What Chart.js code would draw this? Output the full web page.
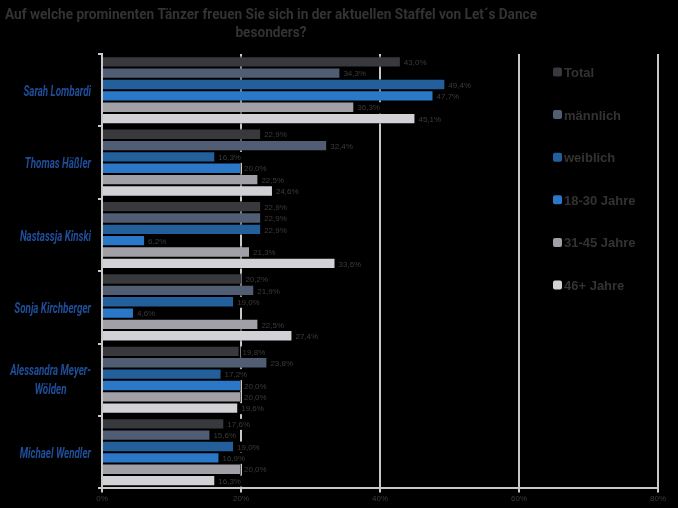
<!DOCTYPE html>
<html>
<head>
<meta charset="utf-8">
<script src="https://cdn.jsdelivr.net/npm/chart.js@4/dist/chart.umd.min.js"></script>
<style>
  html, body { margin: 0; padding: 0; background: #000; }
  #wrap { width: 678px; height: 508px; }
</style>
</head>
<body>
<div id="wrap"><canvas id="c" width="678" height="508"></canvas></div>
<script>
const categories = ["Sarah Lombardi", "Thomas Häßler", "Nastassja Kinski", "Sonja Kirchberger", ["Alessandra Meyer-", "Wölden"], "Michael Wendler"];
const seriesNames = ["Total", "männlich", "weiblich", "18-30 Jahre", "31-45 Jahre", "46+ Jahre"];
const total      = [43.0, 22.9, 22.9, 20.2, 19.8, 17.6];
const maennlich  = [34.3, 32.4, 22.9, 21.9, 23.8, 15.6];
const weiblich   = [49.4, 16.3, 22.9, 19.0, 17.2, 19.0];
const jahre18_30 = [47.7, 20.0, 6.2, 4.6, 20.0, 16.9];
const jahre31_45 = [36.3, 22.5, 21.3, 22.5, 20.0, 20.0];
const jahre46    = [45.1, 24.6, 33.6, 27.4, 19.6, 16.3];
const xTicks = [0, 20, 40, 60, 80];
const titleLines = ["Auf welche prominenten Tänzer freuen Sie sich in der aktuellen Staffel von Let´s Dance", "besonders?"];

const colors = ["#38393d", "#505d72", "#235f9a", "#2b78c8", "#a0a0a6", "#d2d2d6"];
const seriesValues = [total, maennlich, weiblich, jahre18_30, jahre31_45, jahre46];

const datasets = seriesNames.map((n, i) => ({
  label: n,
  data: seriesValues[i],
  backgroundColor: colors[i],
  borderColor: "rgba(0,0,0,0.55)",
  borderWidth: 1,
  barPercentage: 1.0,
  categoryPercentage: 0.94
}));

const fmt = v => v.toFixed(1).replace(".", ",") + "%";

const bgPlugin = {
  id: "bg",
  beforeDraw(chart) {
    const ctx = chart.ctx;
    ctx.save();
    ctx.fillStyle = "#000";
    ctx.fillRect(0, 0, chart.width, chart.height);
    ctx.restore();
  }
};

// condensed title, drawn as text
const titlePlugin = {
  id: "condTitle",
  afterDraw(chart) {
    const ctx = chart.ctx;
    ctx.save();
    ctx.font = "bold 15px Roboto, 'Liberation Sans', sans-serif";
    ctx.fillStyle = "#333333";
    ctx.textAlign = "center";
    ctx.textBaseline = "middle";
    const w0 = ctx.measureText(titleLines[0]).width;
    const sx = 532 / w0;
    const cx = 271;
    titleLines.forEach((line, i) => {
      ctx.save();
      ctx.translate(cx, 15 + i * 18);
      ctx.scale(sx, 1);
      ctx.fillText(line, 0, 0);
      ctx.restore();
    });
    ctx.restore();
  }
};

// condensed category labels
const yLabelPlugin = {
  id: "yLabels",
  afterDraw(chart) {
    const ctx = chart.ctx;
    const ys = chart.scales.y;
    ctx.save();
    ctx.font = "italic bold 14px Roboto, 'Liberation Sans', sans-serif";
    ctx.fillStyle = "#1f4e9a";
    ctx.textBaseline = "middle";
    const sx = 0.7;
    const right = 91;
    chart.data.labels.forEach((lab, i) => {
      const yc = ys.getPixelForTick(i);
      if (Array.isArray(lab)) {
        const widths = lab.map(l => ctx.measureText(l).width * sx);
        const maxW = Math.max(...widths);
        const center = right - maxW / 2;
        lab.forEach((l, j) => {
          const y = yc + 1 + (j - (lab.length - 1) / 2) * 19;
          ctx.save();
          ctx.translate(center, y);
          ctx.scale(sx, 1);
          ctx.textAlign = "center";
          ctx.fillText(l, 0, 0);
          ctx.restore();
        });
      } else {
        ctx.save();
        ctx.translate(right, yc + 2);
        ctx.scale(sx, 1);
        ctx.textAlign = "right";
        ctx.fillText(lab, 0, 0);
        ctx.restore();
      }
    });
    ctx.restore();
  }
};

const labelPlugin = {
  id: "vlabels",
  afterDatasetsDraw(chart) {
    const ctx = chart.ctx;
    ctx.save();
    ctx.font = "8px 'Liberation Sans', Arial, sans-serif";
    ctx.textBaseline = "middle";
    ctx.textAlign = "left";
    chart.data.datasets.forEach((ds, di) => {
      const meta = chart.getDatasetMeta(di);
      meta.data.forEach((bar, i) => {
        const t = fmt(ds.data[i]);
        const w = ctx.measureText(t).width;
        const x = bar.x + 3;
        const y = bar.y + 1;
        ctx.fillStyle = "#000";
        ctx.fillRect(x - 2, y - 6, w + 4, 11);
        ctx.fillStyle = "#3c3c3c";
        ctx.fillText(t, x, y);
      });
    });
    ctx.restore();
  }
};

const legendPlugin = {
  id: "customLegend",
  afterDraw(chart) {
    const ctx = chart.ctx;
    ctx.save();
    const x0 = 553, y0 = 72.5, step = 42.6;
    ctx.font = "bold 13px 'Liberation Sans', Arial, sans-serif";
    ctx.textBaseline = "middle";
    ctx.textAlign = "left";
    chart.data.datasets.forEach((ds, i) => {
      const y = y0 + i * step;
      ctx.fillStyle = ds.backgroundColor;
      ctx.beginPath();
      if (ctx.roundRect) ctx.roundRect(x0, y - 5, 9, 9, 2); else ctx.rect(x0, y - 5, 9, 9);
      ctx.fill();
      ctx.fillStyle = "#333333";
      ctx.fillText(ds.label, x0 + 11, y + 1);
    });
    ctx.restore();
  }
};

new Chart(document.getElementById("c"), {
  type: "bar",
  data: { labels: categories, datasets },
  options: {
    indexAxis: "y",
    responsive: false,
    animation: false,
    devicePixelRatio: 1,
    layout: { padding: { left: 4, right: 20, top: 54, bottom: 2 } },
    plugins: {
      legend: { display: false },
      tooltip: { enabled: false },
      title: { display: false }
    },
    scales: {
      x: {
        min: 0, max: 80,
        afterBuildTicks(scale) { scale.ticks = xTicks.map(v => ({ value: v })); },
        ticks: {
          color: "#3c3c3c",
          font: { size: 8, family: "'Liberation Sans', Arial, sans-serif" },
          padding: 2,
          callback: v => v + "%"
        },
        grid: { color: "#c8c8c8", lineWidth: 2, tickLength: 4, tickColor: "#c8c8c8" },
        border: { color: "#c8c8c8", width: 2 }
      },
      y: {
        afterFit(scale) { scale.width = 98; },
        ticks: { display: false },
        grid: { drawOnChartArea: false, tickLength: 4, color: "#c8c8c8", lineWidth: 2, offset: true },
        border: { color: "#c8c8c8", width: 2 }
      }
    }
  },
  plugins: [bgPlugin, labelPlugin, titlePlugin, yLabelPlugin, legendPlugin]
});
</script>
</body>
</html>
